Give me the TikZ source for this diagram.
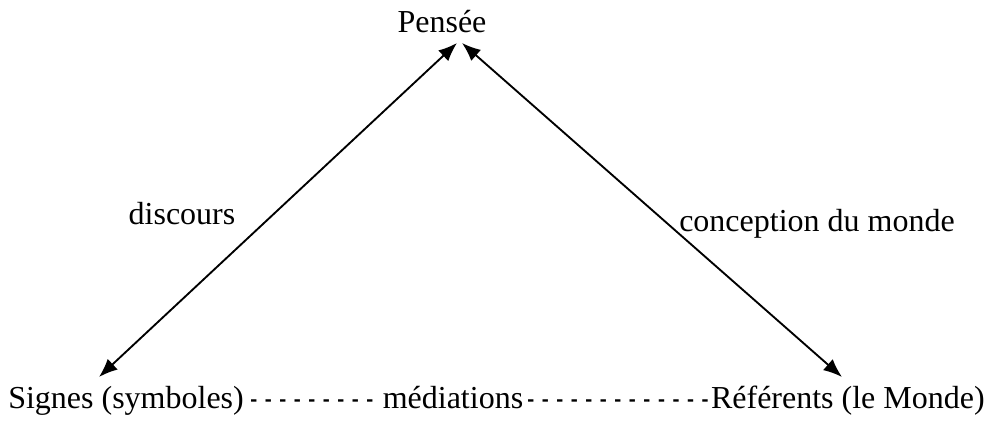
\documentclass[tikz,border=0pt]{standalone}
\usepackage{fontspec}
\setmainfont{Liberation Serif}
\usetikzlibrary{arrows.meta,calc}
% suite de tirets espaces
\newcommand\tirets[1]{\foreach \i in {1,...,#1}{\ifnum\i>1 \kern 5.7pt\fi \scalebox{0.65}[1]{-}}}
\begin{document}
\begin{tikzpicture}[x=0.75pt,y=-0.75pt,
    mot/.style={font=\fontsize{24}{29}\selectfont, inner sep=0pt},
    lien/.style={{Latex[length=14pt,width=11pt]}-{Latex[length=14pt,width=11pt]}, line width=1.4pt}]
    \useasboundingbox (0,0) rectangle (990,423);
    \node[mot, anchor=base] (pensee) at (442,33) {Pensée};
    \node[mot, anchor=base west] (signes) at (8,409) {Signes (symboles)};
    \node[mot, anchor=base west] (tirets1) at (250,409) {\tirets{9}};
    \node[mot, anchor=base] (mediations) at (453,409) {médiations};
    \node[mot, anchor=base west] (tirets2) at (527,409) {\tirets{13}};
    \node[mot, anchor=base east] (referents) at (985,409) {Référents (le Monde)};
    \node[mot, anchor=base] (discours) at (182,225) {discours};
    \node[mot, anchor=base] (conception) at (817,232) {conception du monde};

    \draw[lien] ($(signes.base west)+(91,-32)$) -- ($(pensee.base)+(15,10)$);
    \draw[lien] ($(pensee.base)+(20,10)$) -- ($(referents.base east)+(-143,-32)$);
\end{tikzpicture}
\end{document}
